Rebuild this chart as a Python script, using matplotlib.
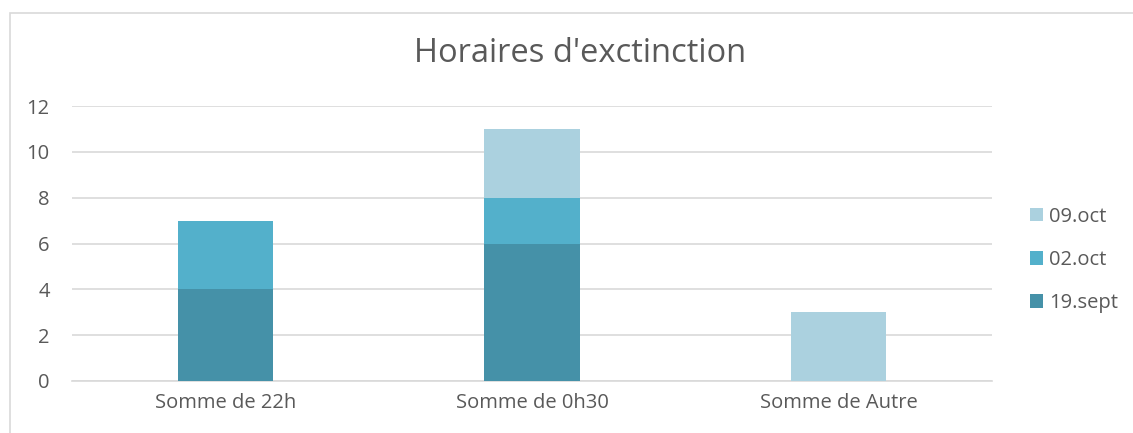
import matplotlib.pyplot as plt
import numpy as np

categories = ['Somme de 22h', 'Somme de 0h30', 'Somme de Autre']
series_names = ['19.sept', '02.oct', '09.oct']
sept19 = [4, 6, 0]
oct02 = [3, 2, 0]
oct09 = [0, 3, 3]
colors = ['#4591A8', '#53B0CB', '#ABD1DF']

plt.rcParams['font.family'] = ['Open Sans', 'DejaVu Sans']
text_col = '#595959'

fig = plt.figure(figsize=(11.33, 4.33), dpi=100)
# cadre du graphique
fig.patches.append(plt.Rectangle((10 / 1133, -0.1), 1.2, (433 - 13) / 433 + 0.1,
                                 transform=fig.transFigure, fill=False,
                                 edgecolor='#D9D9D9', linewidth=1.2))

ax = fig.add_axes([72 / 1133, (433 - 381) / 433, 920 / 1133, 275 / 433])
x = np.arange(len(categories))
bottom = np.zeros(len(categories))
for name, vals, c in zip(series_names, [sept19, oct02, oct09], colors):
    ax.bar(x, vals, width=0.31, bottom=bottom, color=c, label=name, zorder=3)
    bottom += np.array(vals)

ax.set_xlim(-0.5, 2.5)
ax.set_ylim(0, 12)
ax.set_yticks(range(0, 13, 2))
ax.set_xticks(x)
ax.set_xticklabels(categories)
ax.grid(axis='y', color='#D9D9D9', linewidth=1.2, zorder=0)
for s in ['top', 'right', 'left']:
    ax.spines[s].set_visible(False)
ax.spines['bottom'].set_color('#D9D9D9')
ax.spines['bottom'].set_linewidth(1.2)
ax.tick_params(axis='both', length=0, labelsize=14.5, labelcolor=text_col)
ax.tick_params(axis='y', pad=16)
ax.tick_params(axis='x', pad=9)

fig.text(580 / 1133, 1 - 53 / 433, "Horaires d'exctinction", ha='center', va='center',
         fontsize=23.5, color=text_col)

h, l = ax.get_legend_handles_labels()
fig.legend(h[::-1], l[::-1], loc='center left', bbox_to_anchor=(1012 / 1133, 1 - 260 / 433),
           frameon=False, fontsize=14.5, labelcolor=text_col, handlelength=0.65,
           handleheight=0.65, handletextpad=0.3, labelspacing=1.15)

fig.savefig('out.png', dpi=100)
